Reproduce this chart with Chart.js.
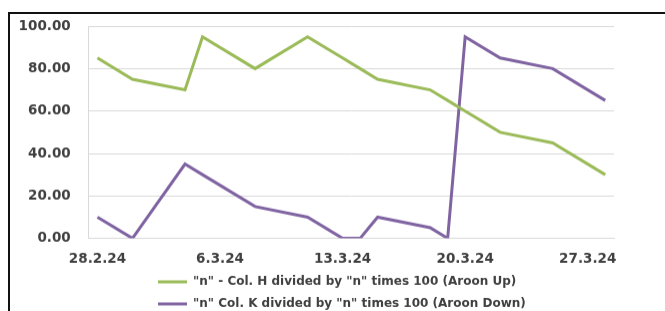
<!DOCTYPE html>
<html>
<head>
<meta charset="utf-8">
<script src="https://cdn.jsdelivr.net/npm/chart.js@4/dist/chart.umd.min.js"></script>
<style>
  html, body { margin: 0; padding: 0; background: #fff; overflow: hidden; width: 665px; height: 311px; }
  #frame { position: absolute; left: 8px; top: 12px; width: 700px; height: 400px;
           border-top: 2px solid #111; border-left: 2px solid #111; }
  #wrap { position: absolute; left: 0; top: 0; width: 665px; height: 332.6px; }
</style>
</head>
<body>
<div id="frame"></div>
<div id="wrap"><canvas id="c"></canvas></div>
<script>
// Calendar days on the date axis (28.2.24 .. 28.3.24)
const categories = [
  '28.2.24','29.2.24','1.3.24','2.3.24','3.3.24','4.3.24','5.3.24','6.3.24',
  '7.3.24','8.3.24','9.3.24','10.3.24','11.3.24','12.3.24','13.3.24','14.3.24',
  '15.3.24','16.3.24','17.3.24','18.3.24','19.3.24','20.3.24','21.3.24','22.3.24',
  '23.3.24','24.3.24','25.3.24','26.3.24','27.3.24','28.3.24'
];
// Values only on observation days (null = no observation)
const aroonUp = [
  85, null, 75, null, null, 70, 95, null,
  null, 80, null, null, 95, null, 85, 80,
  75, null, null, 70, 65, 60, null, 50,
  null, null, 45, null, null, 30
];
const aroonDown = [
  10, null, 0, null, null, 35, 30, null,
  null, 15, null, null, 10, null, 0, 0,
  10, null, null, 5, 0, 95, null, 85,
  null, null, 80, null, null, 65
];
const xTickLabels = ['28.2.24','6.3.24','13.3.24','20.3.24','27.3.24'];
const yTickValues = [0, 20, 40, 60, 80, 100];

const seriesNames = [
  '"n" - Col. H divided by "n" times 100 (Aroon Up)',
  '"n" Col. K divided by "n" times 100 (Aroon Down)'
];

const legendShift = {
  id: 'legendShift',
  afterLayout(chart) {
    const lg = chart.legend;
    const w = lg.right - lg.left;
    const h = lg.bottom - lg.top;
    lg.left = 148;
    lg.right = lg.left + w;
    lg.top = lg.top - 13.6;
    lg.bottom = lg.top + h;
  }
};

const tickFont = { family: 'DejaVu Sans', size: 13.5, weight: 'bold' };
const gridColor = '#d9d9d9';

new Chart(document.getElementById('c'), {
  type: 'line',
  data: {
    labels: categories,
    datasets: [
      { label: seriesNames[0], data: aroonUp, borderColor: '#9bbb59', backgroundColor: '#9bbb59',
        borderWidth: 3, pointRadius: 0, pointHoverRadius: 0, tension: 0, spanGaps: true,
        pointStyle: 'line' },
      { label: seriesNames[1], data: aroonDown, borderColor: '#8064a2', backgroundColor: '#8064a2',
        borderWidth: 3, pointRadius: 0, pointHoverRadius: 0, tension: 0, spanGaps: true,
        pointStyle: 'line' }
    ]
  },
  options: {
    responsive: true,
    maintainAspectRatio: false,
    animation: false,
    layout: { padding: { left: 18, right: 51, top: 26, bottom: 0 } },
    scales: {
      x: {
        type: 'category',
        offset: true,
        afterFit: (scale) => { scale.paddingLeft = 0; scale.paddingRight = 0; },
        grid: { display: false, drawTicks: false },
        border: { display: true, color: gridColor, width: 1 },
        ticks: {
          autoSkip: false, maxRotation: 0, minRotation: 0, padding: 12.4,
          color: '#404040', font: tickFont,
          callback: function(v, i) {
            const lab = categories[i];
            return xTickLabels.includes(lab) ? lab : '';
          }
        }
      },
      y: {
        min: 0, max: 100,
        afterBuildTicks: (scale) => { scale.ticks = yTickValues.map(v => ({ value: v })); },
        afterFit: (scale) => { scale.width = 70.7; },
        grid: { color: gridColor, lineWidth: 1, drawTicks: false },
        border: { display: true, color: gridColor, width: 1 },
        ticks: {
          padding: 18, color: '#404040', font: tickFont,
          callback: (v) => Number(v).toFixed(2)
        }
      }
    },
    plugins: {
      tooltip: { enabled: false },
      legend: {
        position: 'bottom',
        align: 'start',
        labels: {
          usePointStyle: true, pointStyleWidth: 29, padding: 10,
          color: '#404040',
          font: { family: 'DejaVu Sans', size: 12, weight: 'bold' }
        }
      }
    }
  },
  plugins: [legendShift]
});
</script>
</body>
</html>
